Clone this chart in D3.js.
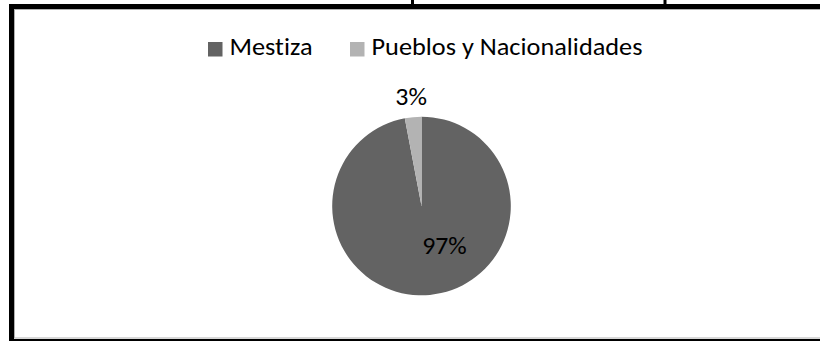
<!DOCTYPE html>
<html>
<head>
<meta charset="utf-8">
<script src="https://cdn.jsdelivr.net/npm/d3@7/dist/d3.min.js"></script>
<style>
  html, body { margin: 0; padding: 0; background: #fff; }
  svg { display: block; }
  text { font-family: Calibri, Carlito, Lato, "Open Sans", sans-serif; fill: #000; font-variant-ligatures: none; font-feature-settings: "liga" 0; }
</style>
</head>
<body>
<svg id="chart" width="820" height="341"></svg>
<script>
// Population by self-identification
const categories = ["Mestiza", "Pueblos y Nacionalidades"];
const values = [97, 3];
const labels = ["97%", "3%"];
const colors = ["#636363", "#b3b3b3"];

const W = 820, H = 341;
const svg = d3.select("#chart");

// Frame: thick black border with a thin grey inner rule
svg.append("rect")
  .attr("x", 11.5).attr("y", 6.5)
  .attr("width", W + 20).attr("height", 335)
  .attr("fill", "none").attr("stroke", "#000").attr("stroke-width", 5);
svg.append("rect")
  .attr("x", 14.5).attr("y", 9.5)
  .attr("width", W + 20).attr("height", 328.5)
  .attr("fill", "none").attr("stroke", "#b0b0b0").attr("stroke-width", 1);

// Descenders of the heading that sits above the frame
[412.5, 665].forEach(x => {
  svg.append("rect").attr("x", x - 1.5).attr("y", 0).attr("width", 3).attr("height", 5).attr("fill", "#000");
});

// Legend
const legend = svg.append("g");
const legendX = [208, 350];
const legendTextW = [83, 271];
categories.forEach((c, i) => {
  legend.append("rect")
    .attr("x", legendX[i]).attr("y", 42)
    .attr("width", 14.5).attr("height", 14.5)
    .attr("fill", colors[i]);
  legend.append("text")
    .attr("x", legendX[i] + 21.5).attr("y", 55)
    .attr("font-size", 24.5)
    .attr("textLength", legendTextW[i])
    .attr("lengthAdjust", "spacingAndGlyphs")
    .text(c);
});

// Pie
const cx = 421.5, cy = 206, r = 89.3;
const pie = d3.pie().sort(null).value(d => d)(values);
const arc = d3.arc().innerRadius(0).outerRadius(r);
const g = svg.append("g").attr("transform", `translate(${cx},${cy})`);
g.selectAll("path.slice")
  .data(pie)
  .enter().append("path")
  .attr("class", "slice")
  .attr("d", arc)
  .attr("fill", (d, i) => colors[i]);

// Data labels: large slice inside at half radius, small slice outside the rim
const labelPos = (d, i) => {
  const mid = (d.startAngle + d.endAngle) / 2;
  const a = i === 0 ? mid - 0.43 : mid;
  const rr = i === 0 ? r * 0.513 : r + 21;
  return [rr * Math.sin(a), -rr * Math.cos(a)];
};
const labelW = [44.5, 31.6];
g.selectAll("text.lbl")
  .data(pie)
  .enter().append("text")
  .attr("class", "lbl")
  .attr("text-anchor", "middle")
  .attr("font-size", 24.5)
  .attr("x", (d, i) => labelPos(d, i)[0])
  .attr("y", (d, i) => labelPos(d, i)[1] + 8.4)
  .attr("textLength", (d, i) => labelW[i])
  .attr("lengthAdjust", "spacingAndGlyphs")
  .text((d, i) => labels[i]);
</script>
</body>
</html>
